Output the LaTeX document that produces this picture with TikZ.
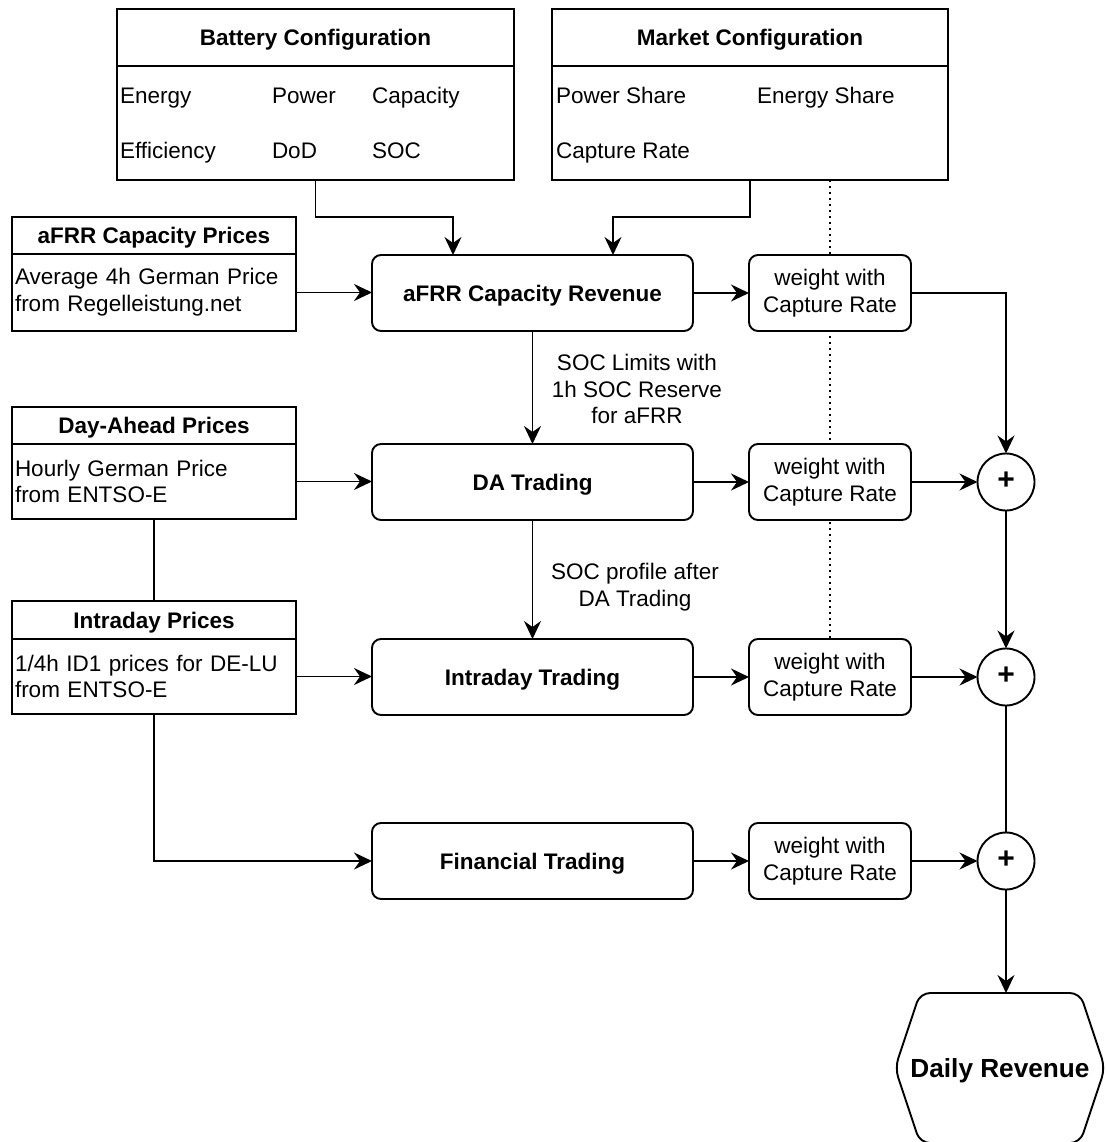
\documentclass[tikz,border=0pt]{standalone}
\usepackage{fontspec}
\setmainfont{Liberation Sans}
\usetikzlibrary{arrows.meta,calc,backgrounds}
\begin{document}
\begin{tikzpicture}[x=1pt,y=-1pt,
  font=\fontsize{22.5}{26.7}\selectfont,
  every node/.style={inner sep=0pt, outer sep=0pt},
  frame/.style={draw, line width=1.9pt, fill=white},
  bf/.style={font=\fontsize{22.5}{26.7}\selectfont\bfseries, text height=18pt, text depth=2pt},
  hdbox/.style={frame, bf},
  pbody/.style={frame, align=left, text width=278pt, inner xsep=3pt},
  proc/.style={frame, bf, rounded corners=9pt, minimum width=321pt, minimum height=76pt},
  wbox/.style={frame, rounded corners=9pt, minimum width=162pt, minimum height=76pt, align=center},
  sumc/.style={frame, circle, minimum size=57pt, font=\fontsize{30}{30}\selectfont\bfseries, text height=18pt, text depth=2pt},
  cfgitem/.style={anchor=base west},
  conn/.style={line width=1.9pt},
  arr/.style={conn, -{Stealth[length=18pt,width=17pt,inset=6pt]}},
  dotline/.style={line width=1.6pt, dash pattern=on 1.6pt off 4.4pt}
]
\useasboundingbox (0,0) rectangle (1107,1142);

% Battery configuration
\node[hdbox, minimum width=397pt, minimum height=57pt] (btitle) at (315.5,37.5) {Battery Configuration};
\node[frame, minimum width=397pt, minimum height=114pt] (bbody) at (315.5,123) {};
\node[cfgitem] (bE) at (120,104) {Energy};
\node[cfgitem] (bP) at (272,104) {Power};
\node[cfgitem] (bC) at (372,104) {Capacity};
\node[cfgitem] (bEf) at (120,159) {Efficiency};
\node[cfgitem] (bD) at (272,159) {DoD};
\node[cfgitem] (bS) at (372,159) {SOC};

% Market configuration
\node[hdbox, minimum width=396pt, minimum height=57pt] (mtitle) at (750,37.5) {Market Configuration};
\node[frame, minimum width=396pt, minimum height=114pt] (mbody) at (750,123) {};
\node[cfgitem] (mP) at (556,104) {Power Share};
\node[cfgitem] (mE) at (757,104) {Energy Share};
\node[cfgitem] (mC) at (556,159) {Capture Rate};

% Price boxes
\node[hdbox, minimum width=284pt, minimum height=37pt] (aptitle) at (154,235.5) {aFRR Capacity Prices};
\node[pbody, minimum height=77pt] (apbody) at (154,292.5) {Average 4h German Price\\from Regelleistung.net};
\node[hdbox, minimum width=284pt, minimum height=37pt] (datitle) at (154,425.5) {Day-Ahead Prices};
\node[pbody, minimum height=75pt] (dabody) at (154,481.5) {Hourly German Price\\from ENTSO-E};
\node[hdbox, minimum width=284pt, minimum height=38pt] (idtitle) at (154,620) {Intraday Prices};
\node[pbody, minimum height=75pt] (idbody) at (154,676.5) {1/4h ID1 prices for DE-LU\\from ENTSO-E};

% Process boxes
\node[proc] (arev) at (532.5,293) {aFRR Capacity Revenue};
\node[proc] (da) at (532.5,482) {DA Trading};
\node[proc] (id) at (532.5,677) {Intraday Trading};
\node[proc] (fin) at (532.5,861) {Financial Trading};

% Weight boxes
\node[wbox] (w1) at (830,293) {weight with\\Capture Rate};
\node[wbox] (w2) at (830,482) {weight with\\Capture Rate};
\node[wbox] (w3) at (830,677) {weight with\\Capture Rate};
\node[wbox] (w4) at (830,861) {weight with\\Capture Rate};

% Summation circles
\node[sumc] (c1) at (1006,482) {\raisebox{1pt}{+}};
\node[sumc] (c2) at (1006,677) {\raisebox{1pt}{+}};
\node[sumc] (c3) at (1006,861) {\raisebox{1pt}{+}};

% Daily revenue hexagon
\node[font=\fontsize{26.2}{30}\selectfont\bfseries, text height=20pt, text depth=2pt,
      minimum width=210pt, minimum height=150pt] (rev) at (1000,1068) {Daily Revenue};
\draw[conn, rounded corners=10pt] (rev.north) -- ($(rev.north east)+(-25,0)$) -- (rev.east)
  -- ($(rev.south east)+(-25,0)$) -- ($(rev.south west)+(25,0)$) -- (rev.west)
  -- ($(rev.north west)+(25,0)$) -- cycle;

% Edge labels
\node[align=center] (l1) at (637,389) {SOC Limits with\\1h SOC Reserve\\for aFRR};
\node[align=center] (l2) at (635,587.5) {SOC profile after\\DA Trading};

% Dotted guide line (behind boxes)
\begin{scope}[on background layer]
\draw[dotline] (w1.north |- mbody.south) -- (w3.north);
\end{scope}

% Connectors
\draw[arr] (bbody.south) -- ++(0,37) -| ([xshift=-79.5pt]arev.north);
\draw[arr] (mbody.south) -- ++(0,37) -| ([xshift=80.5pt]arev.north);
\draw[arr] (apbody.east) -- (apbody.east -| arev.west);
\draw[arr] (dabody.east) -- (dabody.east -| da.west);
\draw[arr] (idbody.east) -- (idbody.east -| id.west);
\draw[conn] (dabody.south) -- (idtitle.north);
\draw[arr] (idbody.south) |- (fin.west);
\draw[arr] (arev.south) -- (da.north);
\draw[arr] (da.south) -- (id.north);
\draw[arr] (arev.east) -- (w1.west);
\draw[arr] (da.east) -- (w2.west);
\draw[arr] (id.east) -- (w3.west);
\draw[arr] (fin.east) -- (w4.west);
\draw[arr] (w1.east) -| (c1.north);
\draw[arr] (w2.east) -- (c1.west);
\draw[arr] (w3.east) -- (c2.west);
\draw[arr] (w4.east) -- (c3.west);
\draw[arr] (c1.south) -- (c2.north);
\draw[conn] (c2.south) -- (c3.north);
\draw[arr] (c3.south) -- (c3.south |- rev.north);
\end{tikzpicture}
\end{document}
